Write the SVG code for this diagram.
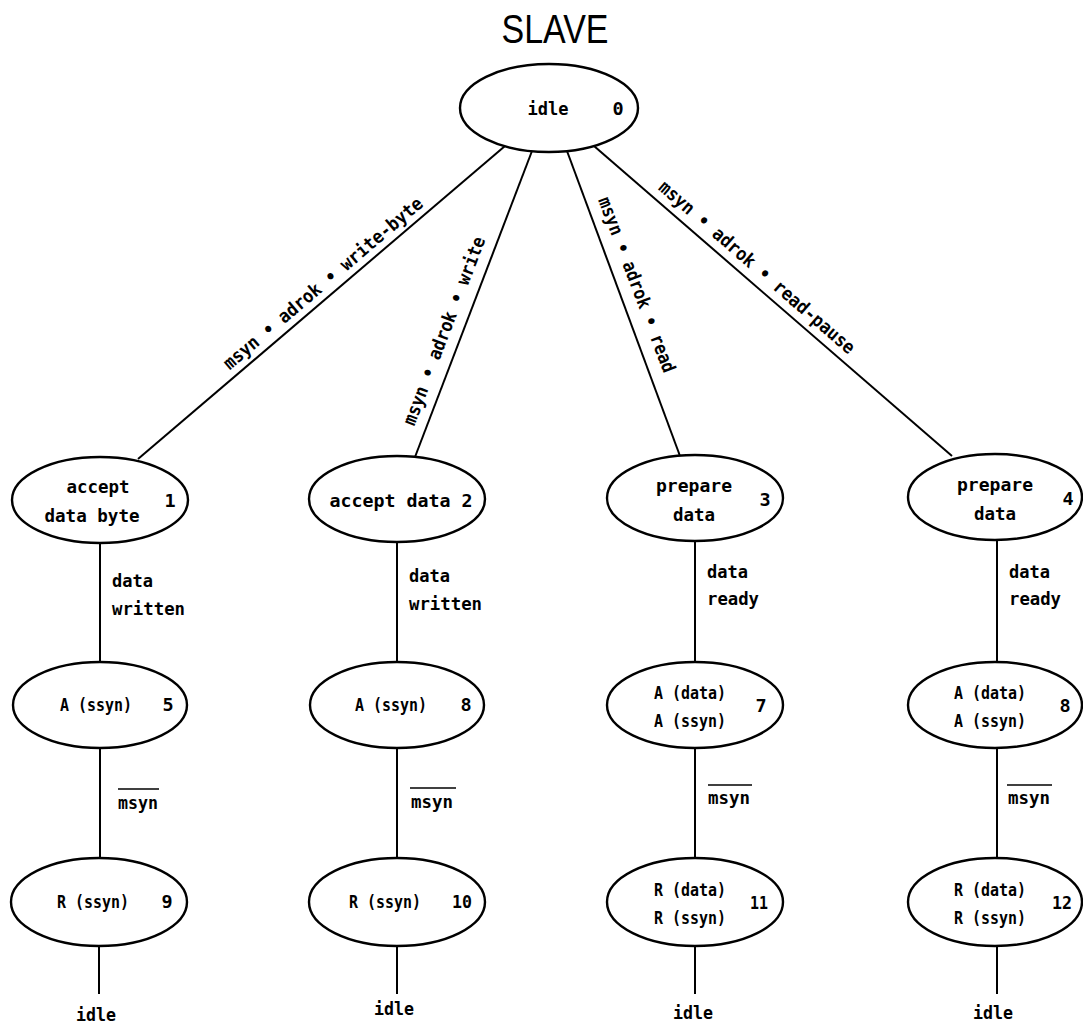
<svg xmlns="http://www.w3.org/2000/svg" width="1083" height="1030" viewBox="0 0 1083 1030">
  <style>
    .state { fill: #ffffff; stroke: #000000; stroke-width: 2.4; }
    .edge { stroke: #000000; stroke-width: 2; fill: none; }
    .bar { stroke: #000000; stroke-width: 1.6; }
    text { font-family: "DejaVu Sans Mono", "Liberation Mono", monospace; font-weight: bold; font-size: 18.5px; fill: #000000; }
    .mid { text-anchor: middle; }
    .title { font-family: "Liberation Sans", "DejaVu Sans", sans-serif; font-weight: normal; font-size: 40px; }
  </style>
  <rect x="0" y="0" width="1083" height="1030" fill="#ffffff"/>

  <text class="title mid" x="555" y="43" textLength="107" lengthAdjust="spacingAndGlyphs">SLAVE</text>

  <!-- transitions -->
  <g id="connectors">
    <line class="edge" x1="505" y1="146" x2="138" y2="459"/>
    <line class="edge" x1="532" y1="151" x2="415" y2="457"/>
    <line class="edge" x1="567" y1="151" x2="680" y2="456"/>
    <line class="edge" x1="594" y1="146" x2="952" y2="456"/>

    <line class="edge" x1="100" y1="543" x2="100" y2="662"/>
    <line class="edge" x1="397" y1="542" x2="397" y2="662"/>
    <line class="edge" x1="695" y1="541" x2="695" y2="662"/>
    <line class="edge" x1="997" y1="540" x2="997" y2="662"/>

    <line class="edge" x1="100" y1="748" x2="100" y2="858"/>
    <line class="edge" x1="397" y1="748" x2="397" y2="858"/>
    <line class="edge" x1="695" y1="748" x2="695" y2="858"/>
    <line class="edge" x1="997" y1="748" x2="997" y2="858"/>

    <line class="edge" x1="99" y1="946" x2="99" y2="994"/>
    <line class="edge" x1="397" y1="946" x2="397" y2="994"/>
    <line class="edge" x1="695" y1="946" x2="695" y2="994"/>
    <line class="edge" x1="997" y1="946" x2="997" y2="994"/>

    <!-- guard labels on the fan-out -->
    <text class="mid" transform="translate(327,288) rotate(-40.3)" textLength="255" lengthAdjust="spacingAndGlyphs">msyn • adrok • write-byte</text>
    <text class="mid" transform="translate(450,333) rotate(-69.1)" textLength="200" lengthAdjust="spacingAndGlyphs">msyn • adrok • write</text>
    <text class="mid" transform="translate(631,287) rotate(69.2)" textLength="186" lengthAdjust="spacingAndGlyphs">msyn • adrok • read</text>
    <text class="mid" transform="translate(753,272) rotate(41)" textLength="253" lengthAdjust="spacingAndGlyphs">msyn • adrok • read-pause</text>

    <!-- guard labels on the columns -->
    <text x="112" y="587" textLength="41" lengthAdjust="spacingAndGlyphs">data</text>
    <text x="112" y="615" textLength="73" lengthAdjust="spacingAndGlyphs">written</text>
    <text x="409" y="582" textLength="41" lengthAdjust="spacingAndGlyphs">data</text>
    <text x="409" y="610" textLength="73" lengthAdjust="spacingAndGlyphs">written</text>
    <text x="707" y="578" textLength="41" lengthAdjust="spacingAndGlyphs">data</text>
    <text x="707" y="605" textLength="52" lengthAdjust="spacingAndGlyphs">ready</text>
    <text x="1009" y="578" textLength="41" lengthAdjust="spacingAndGlyphs">data</text>
    <text x="1009" y="605" textLength="52" lengthAdjust="spacingAndGlyphs">ready</text>

    <g id="not-msyn">
      <line class="bar" x1="118" y1="789" x2="159" y2="789"/>
      <text x="118" y="809" textLength="40" lengthAdjust="spacingAndGlyphs">msyn</text>
      <line class="bar" x1="410" y1="788" x2="456" y2="788"/>
      <text x="411" y="808" textLength="42" lengthAdjust="spacingAndGlyphs">msyn</text>
      <line class="bar" x1="708" y1="785" x2="752" y2="785"/>
      <text x="708" y="804" textLength="42" lengthAdjust="spacingAndGlyphs">msyn</text>
      <line class="bar" x1="1007" y1="785" x2="1052" y2="785"/>
      <text x="1008" y="804" textLength="42" lengthAdjust="spacingAndGlyphs">msyn</text>
    </g>

    <text class="mid" x="96" y="1021" textLength="40" lengthAdjust="spacingAndGlyphs">idle</text>
    <text class="mid" x="394" y="1015" textLength="40" lengthAdjust="spacingAndGlyphs">idle</text>
    <text class="mid" x="693" y="1019" textLength="40" lengthAdjust="spacingAndGlyphs">idle</text>
    <text class="mid" x="993" y="1019" textLength="40" lengthAdjust="spacingAndGlyphs">idle</text>
  </g>

  <!-- states -->
  <g id="s0">
    <ellipse class="state" cx="549" cy="108" rx="89" ry="44"/>
    <text class="mid" x="548" y="115" textLength="41" lengthAdjust="spacingAndGlyphs">idle</text>
    <text class="mid" x="618" y="115">0</text>
  </g>

  <g id="s1">
    <ellipse class="state" cx="100" cy="500" rx="88" ry="43"/>
    <text class="mid" x="98" y="493" textLength="63" lengthAdjust="spacingAndGlyphs">accept</text>
    <text class="mid" x="92" y="522" textLength="95" lengthAdjust="spacingAndGlyphs">data byte</text>
    <text class="mid" x="170" y="507">1</text>
  </g>
  <g id="s2">
    <ellipse class="state" cx="397" cy="499" rx="88" ry="43"/>
    <text class="mid" x="401" y="507" textLength="143" lengthAdjust="spacingAndGlyphs">accept data 2</text>
  </g>
  <g id="s3">
    <ellipse class="state" cx="695" cy="498" rx="88" ry="43"/>
    <text class="mid" x="694" y="492" textLength="76" lengthAdjust="spacingAndGlyphs">prepare</text>
    <text class="mid" x="694" y="521" textLength="42" lengthAdjust="spacingAndGlyphs">data</text>
    <text class="mid" x="765" y="506">3</text>
  </g>
  <g id="s4">
    <ellipse class="state" cx="995" cy="497" rx="87" ry="43"/>
    <text class="mid" x="995" y="491" textLength="76" lengthAdjust="spacingAndGlyphs">prepare</text>
    <text class="mid" x="995" y="520" textLength="42" lengthAdjust="spacingAndGlyphs">data</text>
    <text class="mid" x="1068" y="505">4</text>
  </g>

  <g id="s5">
    <ellipse class="state" cx="100" cy="705" rx="87" ry="43"/>
    <text class="mid" x="96" y="711" textLength="72" lengthAdjust="spacingAndGlyphs">A (ssyn)</text>
    <text class="mid" x="168" y="711">5</text>
  </g>
  <g id="s6">
    <ellipse class="state" cx="397" cy="705" rx="87" ry="43"/>
    <text class="mid" x="391" y="711" textLength="72" lengthAdjust="spacingAndGlyphs">A (ssyn)</text>
    <text class="mid" x="466" y="711">8</text>
  </g>
  <g id="s7">
    <ellipse class="state" cx="695" cy="705" rx="88" ry="43"/>
    <text class="mid" x="690" y="699" textLength="72" lengthAdjust="spacingAndGlyphs">A (data)</text>
    <text class="mid" x="690" y="727" textLength="72" lengthAdjust="spacingAndGlyphs">A (ssyn)</text>
    <text class="mid" x="761" y="712">7</text>
  </g>
  <g id="s8">
    <ellipse class="state" cx="995" cy="705" rx="87" ry="43"/>
    <text class="mid" x="990" y="699" textLength="72" lengthAdjust="spacingAndGlyphs">A (data)</text>
    <text class="mid" x="990" y="727" textLength="72" lengthAdjust="spacingAndGlyphs">A (ssyn)</text>
    <text class="mid" x="1065" y="712">8</text>
  </g>

  <g id="s9">
    <ellipse class="state" cx="99" cy="902" rx="88" ry="44"/>
    <text class="mid" x="93" y="908" textLength="72" lengthAdjust="spacingAndGlyphs">R (ssyn)</text>
    <text class="mid" x="167" y="908">9</text>
  </g>
  <g id="s10">
    <ellipse class="state" cx="397" cy="902" rx="88" ry="44"/>
    <text class="mid" x="385" y="908" textLength="72" lengthAdjust="spacingAndGlyphs">R (ssyn)</text>
    <text class="mid" x="462" y="908" textLength="20" lengthAdjust="spacingAndGlyphs">10</text>
  </g>
  <g id="s11">
    <ellipse class="state" cx="695" cy="902" rx="88" ry="44"/>
    <text class="mid" x="690" y="896" textLength="72" lengthAdjust="spacingAndGlyphs">R (data)</text>
    <text class="mid" x="690" y="924" textLength="72" lengthAdjust="spacingAndGlyphs">R (ssyn)</text>
    <text class="mid" x="759" y="909" textLength="18" lengthAdjust="spacingAndGlyphs">11</text>
  </g>
  <g id="s12">
    <ellipse class="state" cx="995" cy="902" rx="87" ry="44"/>
    <text class="mid" x="990" y="896" textLength="72" lengthAdjust="spacingAndGlyphs">R (data)</text>
    <text class="mid" x="990" y="924" textLength="72" lengthAdjust="spacingAndGlyphs">R (ssyn)</text>
    <text class="mid" x="1062" y="909" textLength="20" lengthAdjust="spacingAndGlyphs">12</text>
  </g>
</svg>
